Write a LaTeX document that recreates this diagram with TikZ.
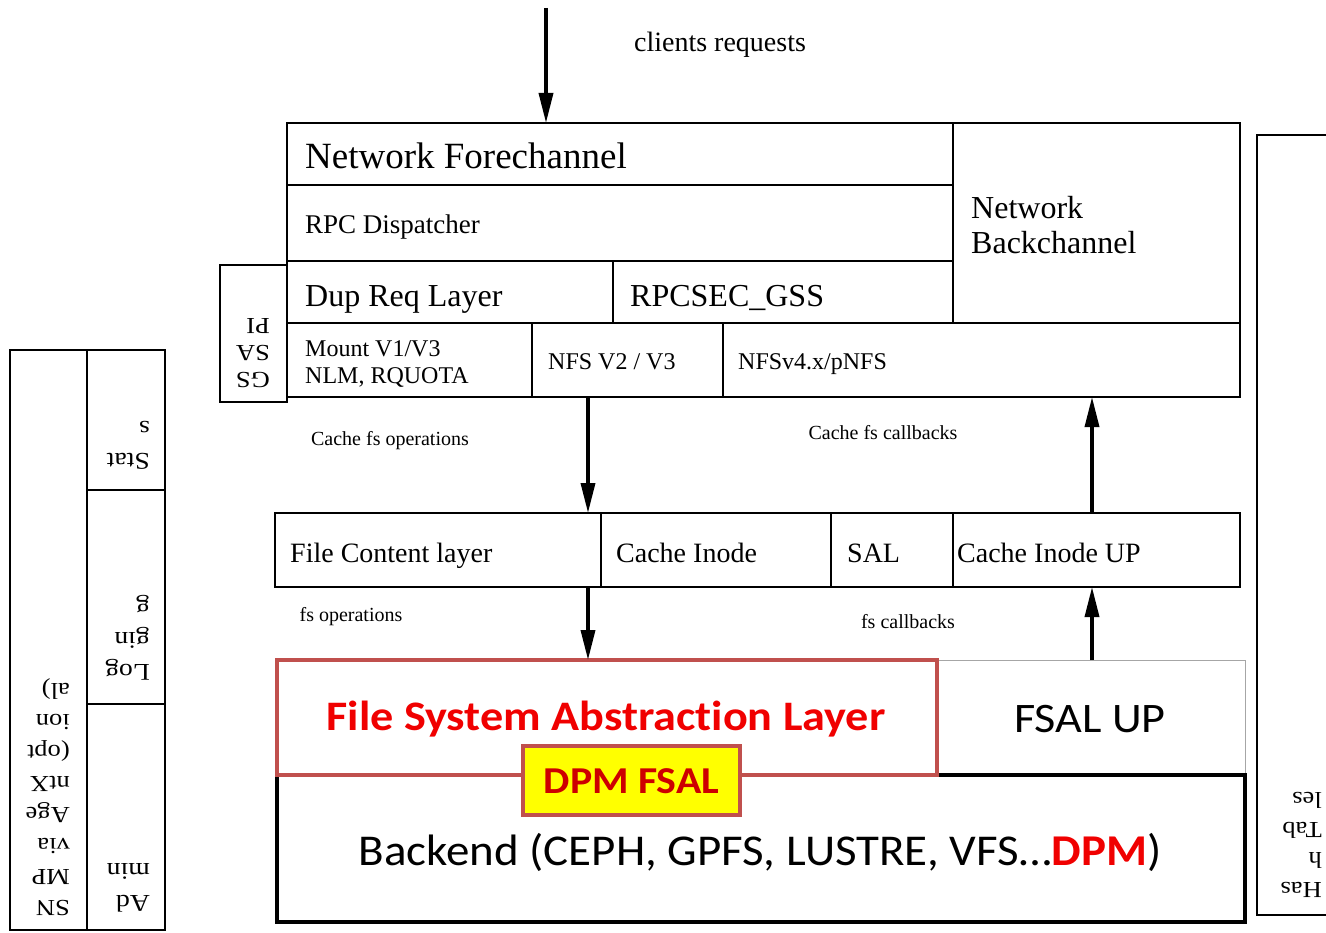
\documentclass[tikz,border=0pt]{standalone}
\usepackage{fontspec}
\setmainfont{Liberation Serif}
\newfontfamily\calibri[Ligatures=NoCommon]{Carlito}
\usetikzlibrary{arrows.meta}
\definecolor{fsalrand}{RGB}{192,80,77}
\definecolor{fsaltext}{RGB}{240,0,0}
\definecolor{dpmtext}{RGB}{205,0,0}
\definecolor{dpmgelb}{RGB}{255,255,0}
\tikzset{
  cell/.style={draw, line width=1.6pt, anchor=north west, inner sep=0pt, outer sep=0pt},
  txt/.style={anchor=west, inner sep=0pt, align=left},
  breit/.style={inner sep=0pt, xscale=1.1, transform shape},
  pfeil/.style={line width=3.5pt, -{Triangle[length=30pt,width=14pt]}},
  kopf/.style={rotate=180, anchor=west, align=left, inner sep=0pt, xscale=1.15, transform shape, font=\fontsize{24}{32}\selectfont},
}
\begin{document}
\begin{tikzpicture}[x=1pt,y=-1pt]
    \useasboundingbox (0,0) rectangle (1326,933);
    % Netzwerkschicht
    \node[cell, minimum width=666pt, minimum height=62pt] (nf) at (287,123) {};
    \node[cell, minimum width=666pt, minimum height=76pt] (rpc) at (287,185) {};
    \node[cell, minimum width=326pt, minimum height=62pt] (dup) at (287,261) {};
    \node[cell, minimum width=340pt, minimum height=62pt] (gss) at (613,261) {};
    \node[cell, minimum width=287pt, minimum height=200pt] (nbc) at (953,123) {};
    \node[cell, minimum width=245pt, minimum height=74pt] (mnt) at (287,323) {};
    \node[cell, minimum width=191pt, minimum height=74pt] (nfs23) at (532,323) {};
    \node[cell, minimum width=517pt, minimum height=74pt] (nfs4) at (723,323) {};
    \node[cell, minimum width=67pt, minimum height=137pt] (gsapi) at (220,265) {};
    \node[txt, font=\fontsize{37}{40}\selectfont] (tnf) at ([xshift=18pt,yshift=-2pt]nf.west) {Network Forechannel};
    \node[txt, font=\fontsize{27}{30}\selectfont] (trpc) at ([xshift=18pt,yshift=-4pt]rpc.west) {RPC Dispatcher};
    \node[txt, font=\fontsize{32}{35}\selectfont] (tdup) at ([xshift=18pt,yshift=-7pt]dup.west) {Dup Req Layer};
    \node[txt, font=\fontsize{32}{35}\selectfont] (tgss) at ([xshift=17pt,yshift=-6pt]gss.west) {RPCSEC\_GSS};
    \node[txt, font=\fontsize{32}{35}\selectfont] (tnbc) at ([xshift=18pt,yshift=-2pt]nbc.west) {Network\\Backchannel};
    \node[txt, font=\fontsize{24}{27}\selectfont] (tmnt) at ([xshift=18pt,yshift=-4pt]mnt.west) {Mount V1/V3\\NLM, RQUOTA};
    \node[txt, font=\fontsize{24}{27}\selectfont] (tnfs23) at ([xshift=16pt,yshift=-2pt]nfs23.west) {NFS V2 / V3};
    \node[txt, font=\fontsize{24}{27}\selectfont] (tnfs4) at ([xshift=15pt,yshift=-4pt]nfs4.west) {NFSv4.x/pNFS};
    \node[kopf, font=\fontsize{23}{27}\selectfont] (tgsapi) at (270,353) {GS\\SA\\PI};
    % Cache-Schicht
    \node[cell, minimum width=326pt, minimum height=74pt] (fc) at (275,513) {};
    \node[cell, minimum width=230pt, minimum height=74pt] (ci) at (601,513) {};
    \node[cell, minimum width=122pt, minimum height=74pt] (sal) at (831,513) {};
    \node[cell, minimum width=287pt, minimum height=74pt] (ciu) at (953,513) {};
    \node[txt, font=\fontsize{28}{31}\selectfont] (tfc) at ([xshift=15pt,yshift=-6pt]fc.west) {File Content layer};
    \node[txt, font=\fontsize{28}{31}\selectfont] (tci) at ([xshift=15pt,yshift=-3pt]ci.west) {Cache Inode};
    \node[txt, font=\fontsize{28}{31}\selectfont] (tsal) at ([xshift=16pt,yshift=-3pt]sal.west) {SAL};
    \node[txt, font=\fontsize{28}{31}\selectfont] (tciu) at ([xshift=4pt,yshift=-3pt]ciu.west) {Cache Inode UP};
    % FSAL und Backend
    \node[cell, draw=gray!70, line width=1pt, minimum width=308pt, minimum height=115pt] (fsalup) at (937,660) {};
    \node[cell, line width=4.5pt, minimum width=968pt, minimum height=147pt] (backend) at (277,775) {};
    \node[cell, draw=fsalrand, line width=3.5pt, minimum width=660pt, minimum height=115pt] (fsal) at (277,660) {};
    \node[cell, draw=fsalrand, fill=dpmgelb, line width=3.5pt, minimum width=217pt, minimum height=69pt] (dpm) at (523,746) {};
    \node[breit, font=\calibri\bfseries\fontsize{42}{46}\selectfont, text=fsaltext] (tfsal) at (606,719) {File System Abstraction Layer};
    \node[breit, font=\calibri\fontsize{42}{46}\selectfont] (tfsalup) at (1090,719) {FSAL UP};
    \node[breit, font=\calibri\bfseries\fontsize{38}{42}\selectfont, text=dpmtext] (tdpm) at ([yshift=-1pt]dpm.center) {DPM FSAL};
    \node[breit, xscale=0.97, font=\calibri\fontsize{44}{48}\selectfont] (tbackend) at (760,852) {Backend (CEPH, GPFS, LUSTRE, VFS\dots\textcolor{fsaltext}{\bfseries DPM})};
    % Seitenkaesten
    \node[cell, line width=2.2pt, minimum width=77pt, minimum height=580pt] (snmp) at (10,350) {};
    \node[cell, line width=2.2pt, minimum width=78pt, minimum height=140pt] (stats) at (87,350) {};
    \node[cell, line width=2.2pt, minimum width=78pt, minimum height=214pt] (logg) at (87,490) {};
    \node[cell, line width=2.2pt, minimum width=78pt, minimum height=226pt] (admin) at (87,704) {};
    \node[cell, minimum width=100pt, minimum height=780pt] (hash) at (1257,135) {};
    \node[kopf] (tstats) at (150,445) {Stat\\s};
    \node[kopf] (tlogg) at (150,638) {Log\\gin\\g};
    \node[kopf] (tadmin) at (150,888) {Ad\\min};
    \node[kopf, font=\fontsize{23}{31}\selectfont] (tsnmp) at (70,797) {SN\\MP\\via\\Age\\ntX\\(opt\\ion\\al)};
    \node[kopf, font=\fontsize{23}{30}\selectfont] (thash) at (1322,845) {Has\\h\\Tab\\les};
    % Pfeile und Beschriftungen
    \coordinate (cr) at (546,8);
    \coordinate (dn) at (588,0);
    \coordinate (up) at (1092,0);
    \draw[pfeil] (cr) -- (cr |- nf.north);
    \draw[pfeil] (dn |- nfs23.south) -- (dn |- fc.north);
    \draw[pfeil] (up |- ciu.north) -- (up |- nfs4.south);
    \draw[pfeil] (dn |- fc.south) -- (dn |- fsal.north);
    \draw[pfeil] (up |- fsalup.north) -- (up |- ciu.south);
    \node[font=\fontsize{28}{31}\selectfont] (lcr) at (720,45) {clients requests};
    \node[font=\fontsize{20}{22}\selectfont] (lcfo) at (390,441) {Cache fs operations};
    \node[font=\fontsize{20}{22}\selectfont] (lcfc) at (883,433) {Cache fs callbacks};
    \node[font=\fontsize{20}{22}\selectfont] (lfo) at (351,617) {fs operations};
    \node[font=\fontsize{20}{22}\selectfont] (lfc) at (908,622) {fs callbacks};
\end{tikzpicture}
\end{document}
